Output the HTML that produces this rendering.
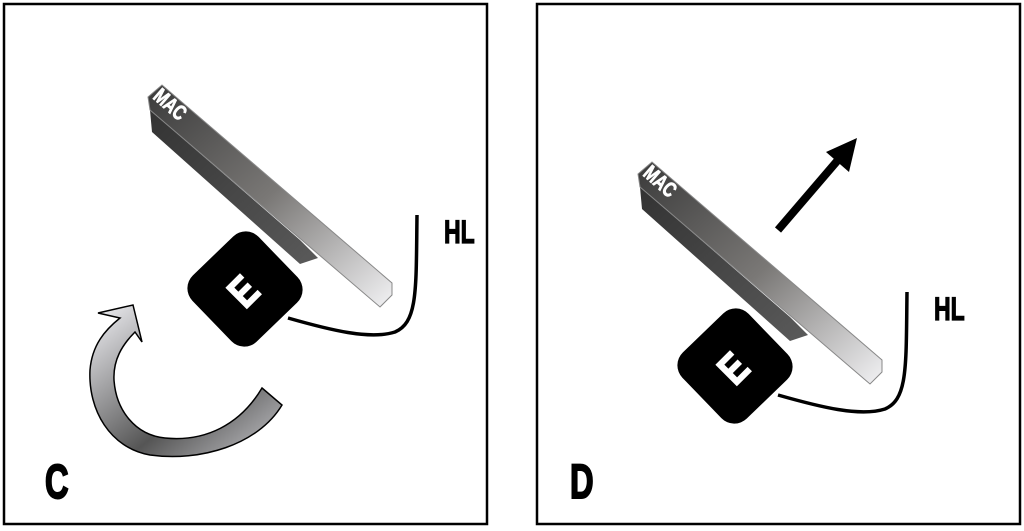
<!DOCTYPE html>
<html><head><meta charset="utf-8"><style>
html,body{margin:0;padding:0;background:#fff;}
svg{display:block}
text{font-family:"Liberation Sans",sans-serif;font-weight:bold}
</style></head><body>
<svg width="1024" height="531" viewBox="0 0 1024 531" xmlns="http://www.w3.org/2000/svg">
<defs>
<linearGradient id="bar" x1="0" y1="0" x2="1" y2="1">
<stop offset="0" stop-color="#3a3a3a"/><stop offset="0.5" stop-color="#7a7876"/><stop offset="1" stop-color="#f2f2f4"/>
</linearGradient>
<linearGradient id="side" x1="0" y1="0" x2="1" y2="1">
<stop offset="0" stop-color="#333"/><stop offset="1" stop-color="#5a5a5a"/>
</linearGradient>
<linearGradient id="arr" x1="0" y1="0" x2="1" y2="1">
<stop offset="0" stop-color="#f4f4f8"/><stop offset="0.6" stop-color="#555"/><stop offset="1" stop-color="#c8c8cc"/>
</linearGradient>
<g id="unit">
<polygon points="150,110 152,132 300,264 318,258 300,240" fill="url(#side)"/>
<polygon points="148,97 162,85 392,283 392,295 380,307 150,110" fill="url(#bar)" stroke="#888" stroke-width="1"/>
<text x="0" y="0" fill="#fff" stroke="#fff" stroke-width="0.8" font-size="21" transform="translate(152,98) rotate(41) scale(0.75,1)">MAC</text>
<rect x="-46" y="-46" width="92" height="92" rx="18" fill="#000" transform="translate(245,289) rotate(46)"/>
<text x="0" y="0" fill="#fff" stroke="#fff" stroke-width="1.5" font-size="42" text-anchor="middle" transform="translate(243,291) rotate(-45) translate(0,15) scale(0.85,1)">E</text>
<path d="M288,318 C330,330 370,340 395,332 C418,322 416,290 417,215" fill="none" stroke="#000" stroke-width="3.5"/>
<text x="0" y="0" font-size="32" fill="#000" stroke="#000" stroke-width="1.2" transform="translate(444,243) scale(0.72,1)">HL</text>
</g>
</defs>
<rect x="4" y="4" width="483" height="520" fill="none" stroke="#000" stroke-width="2.5"/>
<rect x="537" y="4" width="483" height="520" fill="none" stroke="#000" stroke-width="2.5"/>
<use href="#unit"/>
<use href="#unit" transform="translate(490,77)"/>
<path d="M262,388 L282,405 C258,445 200,462 150,455 C110,448 88,410 90,370 C92,345 105,330 120,318 L98,313 L133,305 L142,342 L135,332 C122,345 113,360 114,380 C116,410 135,435 165,438 C205,442 240,425 262,388 Z" fill="url(#arr)" stroke="#000" stroke-width="1.5"/>
<line x1="778" y1="230" x2="838" y2="160" stroke="#000" stroke-width="8"/>
<polygon points="857,138 826,152 849,172" fill="#000"/>
<text x="0" y="0" font-size="48" fill="#000" stroke="#000" stroke-width="2" transform="translate(45,498) scale(0.68,1)">C</text>
<text x="0" y="0" font-size="48" fill="#000" stroke="#000" stroke-width="2" transform="translate(570,498) scale(0.68,1)">D</text>
</svg>
</body></html>
